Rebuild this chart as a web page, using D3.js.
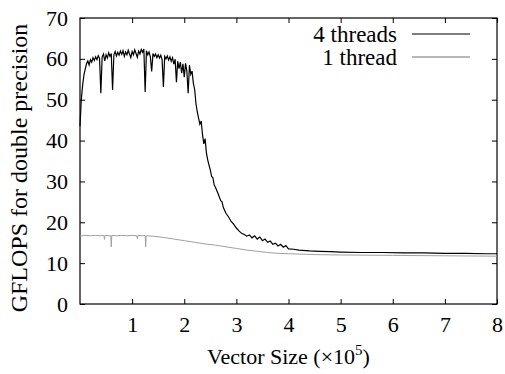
<!DOCTYPE html>
<html>
<head>
    <meta charset="UTF-8">
    <script src="https://d3js.org/d3.v7.min.js"></script>
</head>
<body style="margin:0">
    <svg id="chart" width="505" height="374" style="font-family: 'Liberation Serif'"></svg>
    <script>
        // vector size (x1e5) and GFLOPS
        const fourThreads = [
            [0.000, 43.5], [0.025, 50.0], [0.050, 53.5], [0.075, 56.0], [0.100, 57.5],
            [0.125, 58.8], [0.150, 59.5], [0.175, 58.5], [0.200, 59.8], [0.225, 59.2],
            [0.250, 60.3], [0.275, 59.6], [0.300, 60.5], [0.325, 59.8], [0.350, 60.8],
            [0.375, 60.1], [0.400, 51.6], [0.425, 60.5], [0.450, 61.2], [0.475, 59.5],
            [0.500, 61.0], [0.525, 60.2], [0.550, 61.5], [0.575, 60.6], [0.600, 61.3],
            [0.625, 52.4], [0.650, 61.0], [0.675, 61.8], [0.700, 60.7], [0.725, 61.6],
            [0.750, 60.9], [0.775, 61.9], [0.800, 61.1], [0.825, 62.0], [0.850, 60.6],
            [0.875, 61.7], [0.900, 61.0], [0.925, 62.1], [0.950, 61.2], [0.975, 60.3],
            [1.000, 61.8], [1.025, 61.0], [1.050, 62.2], [1.075, 61.3], [1.100, 60.4],
            [1.125, 61.9], [1.150, 61.2], [1.175, 62.3], [1.200, 61.6], [1.225, 62.4],
            [1.250, 51.9], [1.275, 62.0], [1.300, 61.0], [1.325, 61.7], [1.350, 60.5],
            [1.375, 56.9], [1.400, 61.3], [1.425, 60.6], [1.450, 61.2], [1.475, 60.3],
            [1.500, 61.0], [1.525, 60.2], [1.550, 60.9], [1.575, 59.8], [1.600, 53.1],
            [1.625, 60.6], [1.650, 60.0], [1.675, 60.7], [1.700, 59.7], [1.725, 60.5],
            [1.750, 59.4], [1.775, 60.3], [1.800, 58.7], [1.825, 59.9], [1.850, 54.3],
            [1.875, 59.4], [1.900, 57.6], [1.925, 59.2], [1.950, 56.5], [1.975, 58.8],
            [2.000, 55.5], [2.025, 58.9], [2.050, 57.0], [2.075, 51.6], [2.100, 58.5],
            [2.125, 56.2], [2.150, 57.0], [2.175, 54.0], [2.200, 52.5], [2.225, 49.0],
            [2.250, 47.0], [2.275, 45.5], [2.300, 44.0], [2.325, 44.8], [2.350, 41.5],
            [2.375, 39.2], [2.400, 40.5], [2.425, 37.0], [2.450, 35.3], [2.475, 34.0],
            [2.500, 32.8], [2.525, 31.2], [2.550, 30.9], [2.575, 29.1], [2.600, 28.5],
            [2.650, 27.0], [2.700, 25.3], [2.725, 25.0], [2.750, 23.6], [2.800, 22.2],
            [2.850, 21.3], [2.900, 20.2], [2.950, 19.5], [3.000, 18.6], [3.050, 17.9],
            [3.100, 17.3], [3.150, 17.0], [3.200, 16.6], [3.250, 16.9], [3.300, 16.2],
            [3.350, 16.7], [3.400, 15.9], [3.450, 16.4], [3.500, 15.5], [3.550, 15.9],
            [3.600, 15.1], [3.650, 15.4], [3.700, 14.6], [3.750, 14.9], [3.800, 14.2],
            [3.850, 14.6], [3.900, 13.9], [3.950, 14.3], [4.000, 13.5], [4.100, 13.4],
            [4.200, 13.2], [4.400, 13.0], [4.600, 12.9], [4.800, 12.8], [5.000, 12.7],
            [5.400, 12.6], [5.800, 12.6], [6.200, 12.5], [6.600, 12.5], [7.000, 12.4],
            [7.400, 12.4], [7.800, 12.3], [8.000, 12.3]
        ];

        const oneThread = [
            [0.00, 16.6], [0.10, 16.8], [0.20, 16.7], [0.30, 16.8], [0.40, 16.7],
            [0.46, 16.8], [0.47, 15.8], [0.48, 16.8], [0.59, 16.7], [0.60, 14.0],
            [0.61, 16.8], [0.70, 16.7], [0.80, 16.8], [0.90, 16.7], [1.00, 16.8],
            [1.09, 16.7], [1.10, 16.0], [1.11, 16.8], [1.20, 16.7], [1.25, 16.8],
            [1.26, 14.0], [1.27, 16.7], [1.40, 16.6], [1.60, 16.3], [1.80, 15.9],
            [2.00, 15.5], [2.20, 15.1], [2.40, 14.7], [2.60, 14.4], [2.80, 14.0],
            [3.00, 13.6], [3.20, 13.2], [3.40, 12.9], [3.60, 12.6], [3.80, 12.4],
            [4.00, 12.3], [4.50, 12.1], [5.00, 12.0], [6.00, 11.9], [7.00, 11.8],
            [8.00, 11.7]
        ];

        const seriesNames = ["4 threads", "1 thread"];
        const xTicks = [1, 2, 3, 4, 5, 6, 7, 8];
        const yTicks = [0, 10, 20, 30, 40, 50, 60, 70];

        const svg = d3.select("#chart");
        const margin = { top: 18, right: 8, bottom: 70, left: 80 };
        const width = 505 - margin.left - margin.right;
        const height = 374 - margin.top - margin.bottom;

        const g = svg.append("g")
            .attr("transform", `translate(${margin.left},${margin.top})`);

        const x = d3.scaleLinear().domain([0, 8]).range([0, width]);
        const y = d3.scaleLinear().domain([0, 70]).range([height, 0]);

        const fontSize = 22;

        // bottom + left axes with inward ticks
        const xAxis = g.append("g")
            .attr("transform", `translate(0,${height})`)
            .call(d3.axisBottom(x).tickValues(xTicks).tickSizeInner(-5).tickSizeOuter(0).tickPadding(12));
        const yAxis = g.append("g")
            .call(d3.axisLeft(y).tickValues(yTicks).tickSizeInner(-5).tickSizeOuter(0).tickPadding(12));

        // mirrored ticks on top + right
        const topAxis = g.append("g")
            .call(d3.axisTop(x).tickValues(xTicks).tickSizeInner(-5).tickSizeOuter(0).tickFormat(""));
        const rightAxis = g.append("g")
            .attr("transform", `translate(${width},0)`)
            .call(d3.axisRight(y).tickValues(yTicks).tickSizeInner(-5).tickSizeOuter(0).tickFormat(""));

        [xAxis, yAxis, topAxis, rightAxis].forEach(a => {
            a.attr("font-family", "Liberation Serif");
            a.select(".domain").remove();
            a.selectAll("line").attr("stroke", "#000");
            a.selectAll("text")
                .attr("fill", "#000")
                .style("font-family", '"Liberation Serif"')
                .style("font-size", fontSize + "px");
        });

        g.append("rect")
            .attr("width", width)
            .attr("height", height)
            .attr("fill", "none")
            .attr("stroke", "#000")
            .attr("stroke-width", 1.2);

        const line = d3.line()
            .x(d => x(d[0]))
            .y(d => y(d[1]));

        g.append("path")
            .datum(oneThread)
            .attr("d", line)
            .attr("fill", "none")
            .attr("stroke", "#a0a0a0")
            .attr("stroke-width", 1);

        g.append("path")
            .datum(fourThreads)
            .attr("d", line)
            .attr("fill", "none")
            .attr("stroke", "#000")
            .attr("stroke-width", 1.2);

        // key
        const lineColors = ["#000", "#a0a0a0"];
        seriesNames.forEach((name, i) => {
            const ky = 16 + i * 23;
            g.append("text")
                .attr("x", 317)
                .attr("y", ky)
                .attr("dy", "0.33em")
                .attr("text-anchor", "end")
                .style("font-family", '"Liberation Serif"')
                .style("font-size", "23px")
                .text(name);
            g.append("line")
                .attr("x1", 332).attr("x2", 390)
                .attr("y1", ky).attr("y2", ky)
                .attr("stroke", lineColors[i])
                .attr("stroke-width", i === 0 ? 1.2 : 1.5);
        });

        // axis titles
        const xLabel = svg.append("text")
            .attr("x", margin.left + width / 2)
            .attr("y", 364)
            .attr("text-anchor", "middle")
            .style("font-family", '"Liberation Serif"')
            .style("font-size", fontSize + "px");
        xLabel.append("tspan").text("Vector Size (\u00d710");
        xLabel.append("tspan").attr("dy", -9).style("font-size", "15px").text("5");
        xLabel.append("tspan").attr("dy", 9).text(")");

        svg.append("text")
            .attr("transform", `translate(27,168) rotate(-90)`)
            .attr("text-anchor", "middle")
            .style("font-family", '"Liberation Serif"')
            .style("font-size", "24px")
            .text("GFLOPS for double precision");
    </script>
</body>
</html>
